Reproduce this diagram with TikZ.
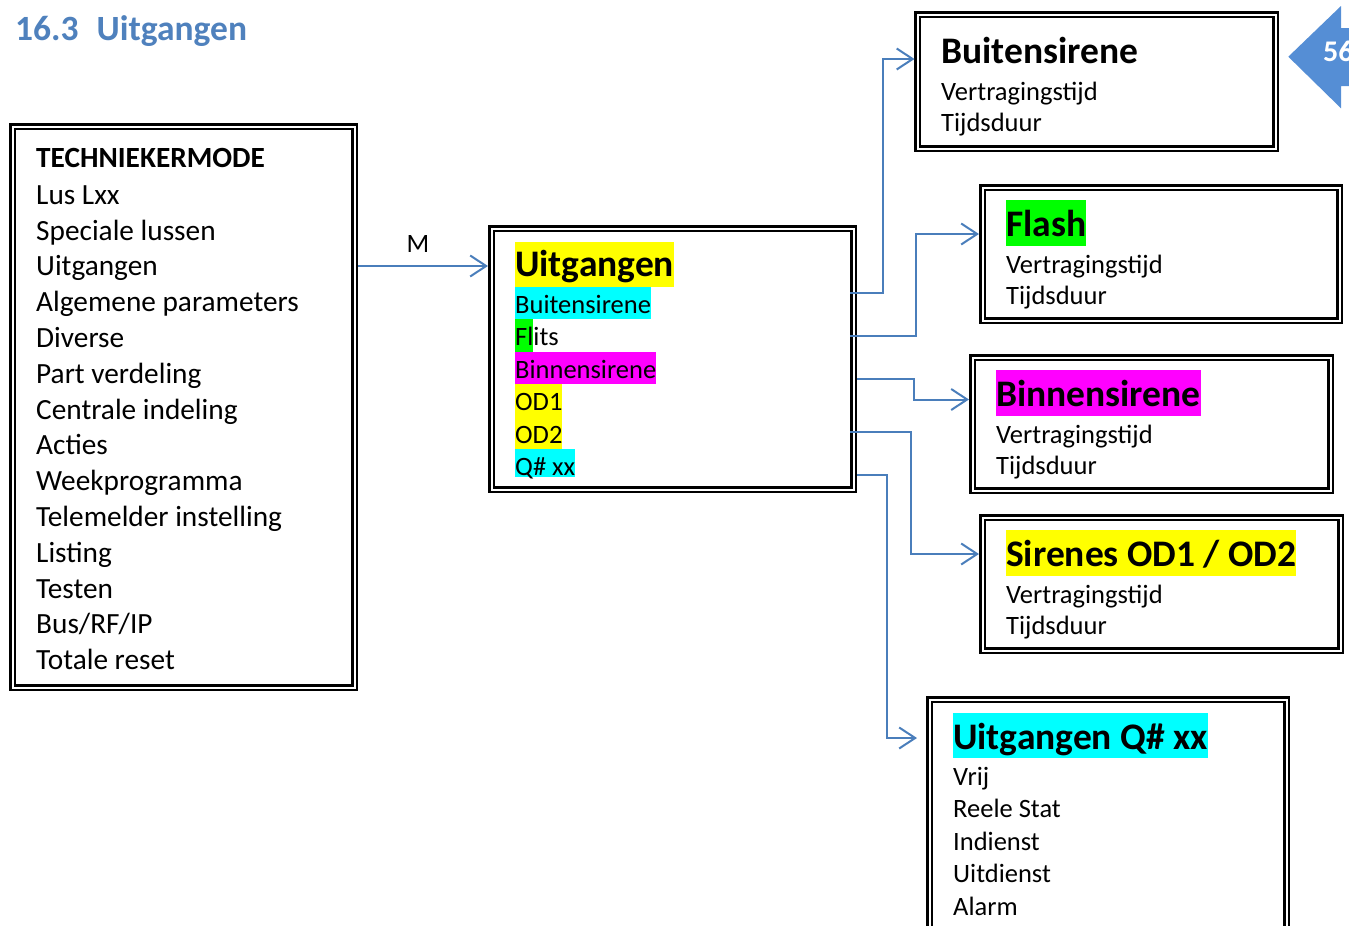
\documentclass[tikz,border=0pt]{standalone}
\usepackage{fontspec}
\setmainfont{Carlito}
\usetikzlibrary{arrows.meta}
\definecolor{hlyellow}{RGB}{255,255,0}
\definecolor{hlcyan}{RGB}{0,255,255}
\definecolor{hlgreen}{RGB}{0,255,0}
\definecolor{hlmagenta}{RGB}{255,0,255}
\definecolor{linkblue}{RGB}{74,126,187}
\definecolor{headblue}{RGB}{79,129,189}
\definecolor{badgeblue}{RGB}{85,142,213}
% highlight for part of a word
\newcommand\hlpart[2]{{\setlength\fboxsep{0pt}\colorbox{#1}{\rule[-6pt]{0pt}{32.5pt}#2}}}

\begin{document}
\begin{tikzpicture}[x=1pt,y=-1pt,
  menubox/.style={draw=black, double=white, line width=2.5pt, double distance=2pt,
                  inner sep=0pt, outer sep=0pt, anchor=north west},
  txt/.style={anchor=base west, inner sep=0pt, yshift=-1.5pt, font=\fontsize{26.5}{32.5}\selectfont},
  bigtxt/.style={anchor=base west, inner sep=0pt, yshift=-1.5pt, font=\fontsize{29.3}{35.8}\selectfont},
  ttl/.style={anchor=base west, inner sep=0pt, yshift=-1.5pt, font=\bfseries\fontsize{37.5}{45.7}\selectfont,
              text height=36.5pt, text depth=9.2pt},
  hl/.style={fill=#1, text height=26.5pt, text depth=6pt},
  conn/.style={draw=linkblue, line width=2pt, -{Straight Barb[length=16pt,width=21pt]}}
]
\useasboundingbox (0,0) rectangle (1349,926);
\clip (0,0) rectangle (1349,926);

% heading
\node[anchor=base west, inner sep=0pt, text=headblue,
      font=\bfseries\fontsize{35.5}{42}\selectfont] (head) at (15,40.5) {16.3\hspace{18pt}Uitgangen};

% page badge
\fill[badgeblue] (1288.3,56.7) -- (1341,6) -- (1341,28) -- (1360,28) -- (1360,86)
                 -- (1341,86) -- (1341,108.3) -- cycle;
\node[anchor=base west, inner sep=0pt, text=white,
      font=\bfseries\fontsize{30}{36}\selectfont] (page) at (1323,61.5) {56};

% menu boxes
\node[menubox, minimum width=342pt, minimum height=561pt] (tm) at (12.5,126.5) {};
\node[menubox, minimum width=362pt, minimum height=261pt] (ug) at (491.5,228.5) {};
\node[menubox, minimum width=358pt, minimum height=134pt] (bs) at (917.5,14.5) {};
\node[menubox, minimum width=357pt, minimum height=133pt] (fl) at (982.5,187.5) {};
\node[menubox, minimum width=358pt, minimum height=133pt] (bn) at (972.5,357.5) {};
\node[menubox, minimum width=358pt, minimum height=133pt] (sr) at (982.5,517.5) {};
\node[menubox, minimum width=357pt, minimum height=257pt] (qx) at (929.5,699.5) {};

% technician menu
\node[bigtxt, font=\bfseries\fontsize{29.3}{35.8}\selectfont] (tmt) at (36,166) {TECHNIEKERMODE};
\foreach \t [count=\i from 0] in {Lus Lxx, Speciale lussen, Uitgangen, Algemene parameters,
    Diverse, Part verdeling, Centrale indeling, Acties, Weekprogramma,
    Telemelder instelling, Listing, Testen, Bus/RF/IP, Totale reset}
  \node[bigtxt] (tm\i) at (36,{202.7+35.8*\i}) {\t};

% outputs menu
\node[ttl, fill=hlyellow, text height=34.8pt, text depth=10.2pt] (ugt) at (515,275) {Uitgangen};
\node[txt, hl=hlcyan] (ug1) at (515,311.7) {Buitensirene};
\node[txt] (ug2) at (515,344.2) {\hlpart{hlgreen}{Fl}its};
\node[txt, hl=hlmagenta] (ug3) at (515,376.7) {Binnensirene};
\node[txt, hl=hlyellow] (ug4) at (515,409.2) {OD1};
\node[txt, hl=hlyellow] (ug5) at (515,441.7) {OD2};
\node[txt, hl=hlcyan, text depth=1pt] (ug6) at (515,474.2) {Q\# xx};

% outdoor siren
\node[ttl] (bst) at (941,62) {Buitensirene};
\node[txt] (bs1) at (941,98.7) {Vertragingstijd};
\node[txt] (bs2) at (941,130.3) {Tijdsduur};

% flash
\node[ttl, fill=hlgreen] (flt) at (1006,235) {Flash};
\node[txt] (fl1) at (1006,271.7) {Vertragingstijd};
\node[txt] (fl2) at (1006,303.3) {Tijdsduur};

% indoor siren
\node[ttl, fill=hlmagenta] (bnt) at (996,405) {Binnensirene};
\node[txt] (bn1) at (996,441.7) {Vertragingstijd};
\node[txt] (bn2) at (996,473.3) {Tijdsduur};

% sirens OD1 / OD2
\node[ttl, fill=hlyellow] (srt) at (1006,565) {Sirenes OD1 / OD2};
\node[txt] (sr1) at (1006,601.7) {Vertragingstijd};
\node[txt] (sr2) at (1006,633.3) {Tijdsduur};

% output Q# xx
\node[ttl, fill=hlcyan] (qxt) at (953,747.5) {Uitgangen Q\# xx};
\foreach \t [count=\i from 0] in {Vrij, Reele Stat, Indienst, Uitdienst, Alarm}
  \node[txt] (qx\i) at (953,{783.7+32.5*\i}) {\t};

% connectors
\node[txt, anchor=base] (mlab) at (418,250.5) {M};
\draw[conn] ([xshift=3.5pt]tm.east |- 0,266) -- ([xshift=-3.5pt]ug.west |- 0,266);
\draw[conn] ([xshift=-3.5pt]ug.east |- 0,292.5) -- ++(33,0) |- ([xshift=-3pt]bs.west |- 0,59);
\draw[conn] ([xshift=-3.5pt]ug.east |- 0,336) -- ++(66,0) |- ([xshift=-3.5pt]fl.west |- 0,234);
\draw[conn] ([xshift=3.5pt]ug.east |- 0,378.5) -- ++(56.5,0) |- ([xshift=-3.5pt]bn.west |- 0,399.5);
\draw[conn] ([xshift=-3.5pt]ug.east |- 0,431.5) -- ++(61,0) |- ([xshift=-3.5pt]sr.west |- 0,554);
\draw[conn] ([xshift=3.5pt]ug.east |- 0,474.5) -- ++(29.5,0) |- ([xshift=-12.5pt]qx.west |- 0,738);
\end{tikzpicture}
\end{document}
